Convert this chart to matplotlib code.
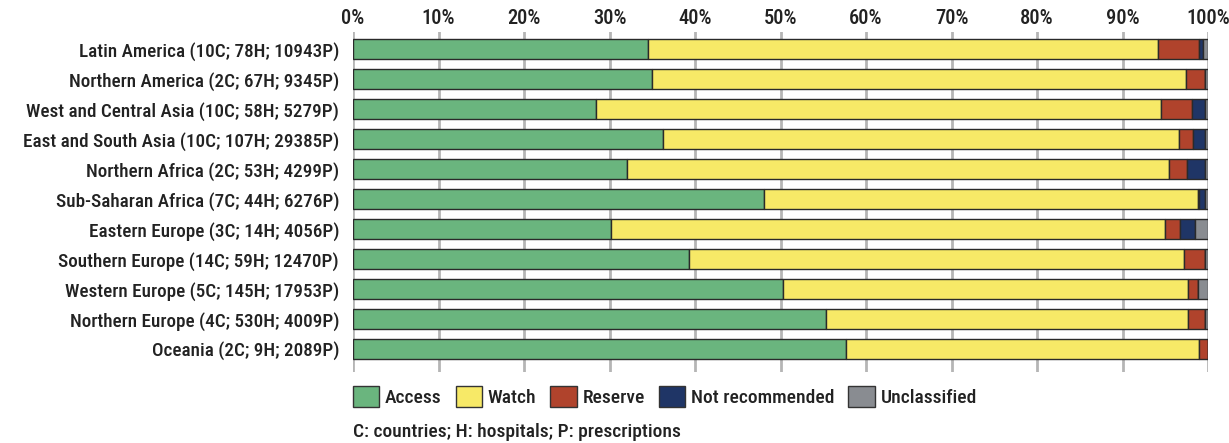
import matplotlib.pyplot as plt
import numpy as np
from matplotlib.patches import Patch
from matplotlib.ticker import PercentFormatter

plt.rcParams['font.family'] = ['Roboto Condensed', 'Roboto', 'DejaVu Sans']
plt.rcParams['font.weight'] = 'medium'
plt.rcParams['text.color'] = '#222222'
plt.rcParams['xtick.color'] = '#222222'
plt.rcParams['ytick.color'] = '#222222'

regions = ["Latin America (10C; 78H; 10943P)",
           "Northern America (2C; 67H; 9345P)",
           "West and Central Asia (10C; 58H; 5279P)",
           "East and South Asia (10C; 107H; 29385P)",
           "Northern Africa (2C; 53H; 4299P)",
           "Sub-Saharan Africa (7C; 44H; 6276P)",
           "Eastern Europe (3C; 14H; 4056P)",
           "Southern Europe (14C; 59H; 12470P)",
           "Western Europe (5C; 145H; 17953P)",
           "Northern Europe (4C; 530H; 4009P)",
           "Oceania (2C; 9H; 2089P)"]

access = [34.5, 35.0, 28.4, 36.3, 32.0, 48.1, 30.2, 39.3, 50.3, 55.3, 57.7]
watch = [59.7, 62.4, 66.1, 60.3, 63.4, 50.7, 64.8, 57.9, 47.4, 42.4, 41.2]
reserve = [4.75, 2.2, 3.6, 1.6, 2.1, 0.1, 1.7, 2.4, 1.1, 1.9, 1.1]
not_rec = [0.5, 0.1, 1.5, 1.4, 2.1, 0.8, 1.8, 0.1, 0.0, 0.1, 0.0]
unclass = [0.55, 0.3, 0.4, 0.4, 0.4, 0.3, 1.5, 0.3, 1.2, 0.3, 0.0]

cats = ["Access", "Watch", "Reserve", "Not recommended", "Unclassified"]
colors = ["#6ab57e", "#f7e967", "#b0432c", "#1f3566", "#898c91"]

fig = plt.figure(figsize=(12.29, 4.43), dpi=100)
ax = fig.add_axes([353 / 1229, 1 - 372 / 443, 855 / 1229, 340 / 443])

y = np.arange(len(regions))
left = np.zeros(len(regions))
for vals, c in zip([access, watch, reserve, not_rec, unclass], colors):
    vals = np.array(vals)
    ax.barh(y, vals, left=left, height=0.65, color=c, edgecolor="#2a2a2a",
            linewidth=1, zorder=3)
    left += vals

ax.set_xlim(0, 100)
ax.set_ylim(10.77, -0.57)
ax.set_yticks(y)
ax.set_yticklabels(regions, fontsize=13.8)
ax.tick_params(axis="y", length=0, pad=10)
ax.xaxis.tick_top()
ax.set_xticks(np.arange(0, 101, 10))
ax.xaxis.set_major_formatter(PercentFormatter(decimals=0))
ax.tick_params(axis="x", length=0, labelsize=14.8, pad=3)
ax.grid(axis="x", color="#b5b5b5", linewidth=2, zorder=0)
for s in ax.spines.values():
    s.set_visible(False)

handles = [Patch(facecolor=c, edgecolor="#333333", label=l) for l, c in zip(cats, colors)]
ax.legend(handles=handles, loc="upper left", bbox_to_anchor=(0, -0.04), ncol=5,
          frameon=False, fontsize=14, handlelength=1.35, handleheight=1.35,
          handletextpad=0.3, columnspacing=0.72, borderaxespad=0, borderpad=0)

fig.text(353 / 1229, 1 - 432 / 443, "C: countries; H: hospitals; P: prescriptions",
         fontsize=14, va="center", ha="left")

plt.savefig("out.png", dpi=100)
